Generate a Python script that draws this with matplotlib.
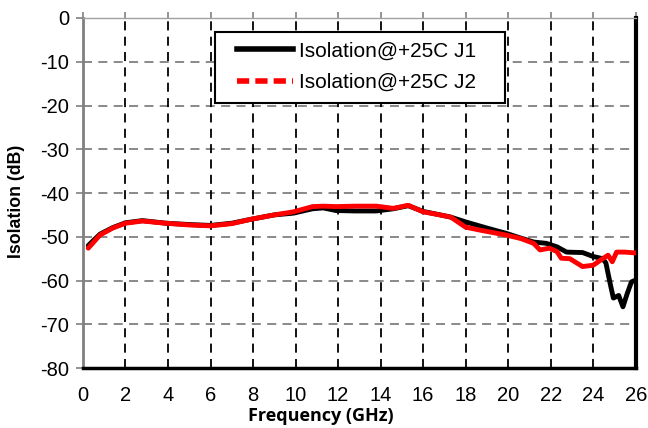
import matplotlib
matplotlib.use("Agg")
import matplotlib.pyplot as plt
from matplotlib.lines import Line2D
from matplotlib.patches import Rectangle

plt.rcParams["axes.unicode_minus"] = False

# Frequency (GHz) and isolation (dB)
freq_j1 = [0.25, 0.8, 1.4, 2.0, 2.8, 3.9, 5.0, 6.0, 7.0, 7.9, 9.0, 9.9, 10.8, 11.3, 11.9,
           12.8, 13.8, 14.6, 15.3, 16.0, 16.8, 17.3, 18.0, 19.0, 19.9, 20.6, 21.2, 21.8,
           22.3, 22.75, 23.5, 24.0, 24.45, 24.6, 24.8, 24.95, 25.2, 25.4, 25.6, 25.8, 26.0]
iso_j1 = [-52.0, -49.4, -47.9, -46.8, -46.3, -46.9, -47.2, -47.4, -46.9, -46.0, -45.0, -44.6,
          -43.6, -43.4, -44.0, -44.1, -44.1, -43.6, -42.9, -44.2, -45.0, -45.5, -46.6, -48.0,
          -49.2, -50.3, -51.2, -51.5, -52.3, -53.5, -53.6, -54.5, -55.0, -56.0, -60.7, -64.0,
          -63.4, -66.0, -63.0, -60.3, -59.9]

freq_j2 = [0.25, 0.8, 1.4, 2.0, 2.8, 3.9, 5.0, 6.0, 7.0, 7.9, 9.0, 9.9, 10.8, 11.3, 11.9,
           12.8, 13.8, 14.6, 15.3, 16.0, 16.8, 17.3, 18.0, 18.7, 19.9, 20.6, 21.2, 21.5,
           21.95, 22.3, 22.5, 22.9, 23.5, 24.0, 24.45, 24.7, 24.9, 25.1, 25.5, 26.0]
iso_j2 = [-52.6, -49.6, -48.0, -46.9, -46.4, -46.9, -47.3, -47.5, -47.0, -46.0, -45.0, -44.3,
          -43.1, -43.0, -43.1, -43.0, -43.0, -43.5, -42.8, -44.3, -45.0, -45.5, -47.8, -48.5,
          -49.6, -50.4, -51.5, -53.0, -52.6, -53.4, -54.9, -55.0, -56.8, -56.5, -55.0, -54.2,
          -55.7, -53.5, -53.5, -53.7]

labels = ["Isolation@+25C J1", "Isolation@+25C J2"]
x_ticks = list(range(0, 27, 2))
y_ticks = list(range(-80, 1, 10))

fig = plt.figure(figsize=(6.48, 4.28), dpi=100)
ax = fig.add_axes([0.128, 0.140, 0.853, 0.818])

ax.plot(freq_j1, iso_j1, color="black", lw=3.5, solid_capstyle="round",
        solid_joinstyle="round", zorder=3)
ax.plot(freq_j2, iso_j2, color="#ff0000", lw=3.5, solid_capstyle="round",
        solid_joinstyle="round", zorder=4)

ax.set_xlim(0, 26)
ax.set_ylim(-80, 0)
ax.set_xticks(x_ticks)
ax.set_yticks(y_ticks)

# grid
for y in y_ticks[1:-1]:
    ax.axhline(y, color="#808080", lw=1.3, ls=(0, (5, 3.5)), zorder=1)
for x in x_ticks[1:-1]:
    ax.axvline(x, color="black", lw=1.3, ls=(0, (5, 3.5)), zorder=1)

font = "Liberation Sans"
for lbl in ax.get_xticklabels() + ax.get_yticklabels():
    lbl.set_fontfamily(font)
    lbl.set_fontsize(14.5)

ax.tick_params(axis="y", direction="out", length=5, width=1.2, color="#808080", pad=5)
ax.tick_params(axis="x", direction="out", length=4, width=1.2, color="#808080",
               top=True, bottom=False, labeltop=False, labelbottom=True, pad=9)

ax.spines["left"].set_color("#808080")
ax.spines["left"].set_linewidth(2)
ax.spines["top"].set_color("#a0a0a0")
ax.spines["top"].set_linewidth(1)
ax.spines["bottom"].set_color("black")
ax.spines["bottom"].set_linewidth(2.5)
ax.spines["right"].set_color("black")
ax.spines["right"].set_linewidth(3)

ax.set_xlabel("Frequency (GHz)", fontsize=13, fontweight="bold", family="Open Sans")
ax.xaxis.set_label_coords(0.43, -0.112)
ax.set_ylabel("Isolation (dB)", fontsize=12.8, fontweight="bold", family=font)
ax.yaxis.set_label_coords(-0.105, 0.475)

# legend box
box = Rectangle((0.239, 0.757), 0.524, 0.203, transform=ax.transAxes,
                facecolor="white", edgecolor="black", lw=1.5, zorder=9)
ax.add_patch(box)

handles = [Line2D([], [], color="black", lw=4),
           Line2D([], [], color="#ff0000", lw=4, ls=(0, (2.2, 1.1)))]
leg = ax.legend(handles, labels, loc="center left", bbox_to_anchor=(0.2785, 0.861),
                prop={"family": font, "size": 15}, frameon=False,
                handlelength=2.7, handletextpad=0.3,
                borderpad=0, labelspacing=0.6, borderaxespad=0)
leg.set_zorder(10)

fig.savefig("out.png", dpi=100)
